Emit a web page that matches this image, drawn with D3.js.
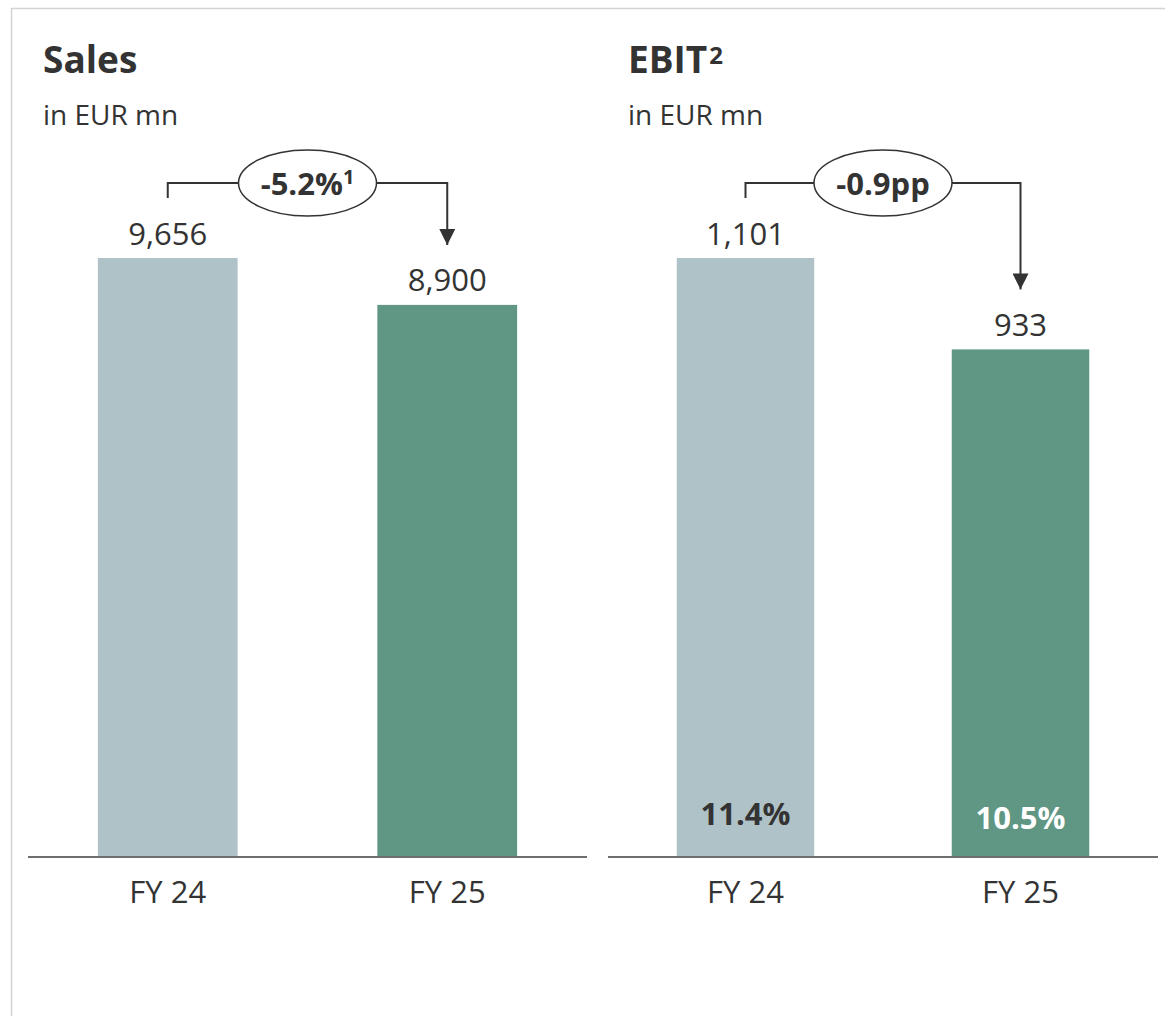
<!DOCTYPE html>
<html>
<head>
<meta charset="utf-8">
<script src="https://cdn.jsdelivr.net/npm/d3@7"></script>
<style>
    html, body { margin: 0; padding: 0; background: #fff; }
    svg text { font-family: 'Open Sans', 'Noto Sans', sans-serif; fill: #333; }
</style>
</head>
<body>
<div id="chart"></div>
<script>
'use strict';

// data
let years = ['FY 24', 'FY 25'];
let salesValues = [9656, 8900];
let ebitValues = [1101, 933];
let ebitMargins = ['11.4%', '10.5%'];
let panelTitles = ['Sales', 'EBIT'];
let titleNotes = ['', '2'];
let changeLabels = ['-5.2%', '-0.9pp'];
let changeNotes = ['1', ''];

let width = 1165,
    height = 1016;

let barColors = ['#afc2c8', '#5f9684'];
let textColor = '#333';

let svg = d3.select('#chart')
    .append('svg')
    .attr('width', width)
    .attr('height', height);

// arrow head for the change bracket
svg.append('defs').append('marker')
    .attr('id', 'arrow')
    .attr('viewBox', '0 0 16 16')
    .attr('refX', 16)
    .attr('refY', 8)
    .attr('markerWidth', 16)
    .attr('markerHeight', 16)
    .attr('markerUnits', 'userSpaceOnUse')
    .attr('orient', 'auto')
    .append('path')
    .attr('d', 'M0,0 L16,8 L0,16 Z')
    .style('fill', textColor);

// outer frame (only top and left edge visible)
svg.append('path')
    .attr('d', 'M11.5,' + height + ' V8.5 H' + width)
    .style('fill', 'none')
    .style('stroke', '#d3d3d3')
    .style('stroke-width', 1.5);

let panels = [
    { values: salesValues, left: 43, axis: [28, 587] },
    { values: ebitValues, left: 628, axis: [608, 1158] }
];

let baseline = 857,
    topY = 258,
    bracketY = 183;

panels.forEach(function(p, i) {
    let g = svg.append('g');

    // scales
    let x = d3.scaleBand()
        .domain(years)
        .range(p.axis)
        .paddingInner(0.5)
        .paddingOuter(0.25);

    let y = d3.scaleLinear()
        .domain([0, d3.max(p.values)])
        .range([baseline, topY]);

    // title + unit
    let title = g.append('text')
        .attr('x', p.left)
        .attr('y', 73)
        .style('font-size', '37px')
        .style('font-weight', 700)
        .text(panelTitles[i]);
    if (titleNotes[i]) {
        title.append('tspan')
            .attr('dx', 2)
            .attr('dy', -9)
            .style('font-size', '24px')
            .text(titleNotes[i]);
    }

    g.append('text')
        .attr('x', p.left)
        .attr('y', 125)
        .style('font-size', '28px')
        .text('in EUR mn');

    // bars
    g.selectAll('rect.bar')
        .data(p.values)
        .enter().append('rect')
        .attr('class', 'bar')
        .attr('x', function(d, j) { return x(years[j]); })
        .attr('y', function(d) { return y(d); })
        .attr('width', x.bandwidth())
        .attr('height', function(d) { return baseline - y(d); })
        .style('fill', function(d, j) { return barColors[j]; });

    // value labels
    g.selectAll('text.value')
        .data(p.values)
        .enter().append('text')
        .attr('class', 'value')
        .attr('x', function(d, j) { return x(years[j]) + x.bandwidth() / 2; })
        .attr('y', function(d) { return y(d) - 13.5; })
        .attr('text-anchor', 'middle')
        .style('font-size', '31px')
        .text(d3.format(','));

    // margin labels inside EBIT bars
    if (i === 1) {
        g.selectAll('text.margin')
            .data(ebitMargins)
            .enter().append('text')
            .attr('class', 'margin')
            .attr('x', function(d, j) { return x(years[j]) + x.bandwidth() / 2; })
            .attr('y', function(d, j) { return baseline - 32 + j * 4; })
            .attr('text-anchor', 'middle')
            .style('font-size', '31px')
            .style('font-weight', 700)
            .style('fill', function(d, j) { return j === 1 ? '#fff' : textColor; })
            .text(function(d) { return d; });
    }

    // x axis
    let xAxis = d3.axisBottom(x).tickSize(0).tickPadding(24);
    let gx = g.append('g')
        .attr('transform', 'translate(0,' + baseline + ')')
        .call(xAxis);
    gx.select('.domain')
        .attr('d', 'M' + p.axis[0] + ',0H' + p.axis[1])
        .style('stroke', '#6e6e6e')
        .style('stroke-width', 2);
    gx.selectAll('.tick text')
        .attr('dy', '0.71em')
        .style('font-size', '31px')
        .style('font-family', "'Open Sans', 'Noto Sans', sans-serif")
        .style('fill', textColor);

    // change bracket
    let c0 = x(years[0]) + x.bandwidth() / 2,
        c1 = x(years[1]) + x.bandwidth() / 2;
    let y0 = y(p.values[0]) - 60,
        y1 = y(p.values[1]) - 60;

    g.append('path')
        .attr('d', 'M' + c0 + ',' + y0 + 'V' + bracketY + 'H' + c1 + 'V' + y1)
        .attr('marker-end', 'url(#arrow)')
        .style('fill', 'none')
        .style('stroke', textColor)
        .style('stroke-width', 2);

    let cx = (c0 + c1) / 2;
    g.append('ellipse')
        .attr('cx', cx)
        .attr('cy', bracketY)
        .attr('rx', 69)
        .attr('ry', 33)
        .style('fill', '#fff')
        .style('stroke', textColor)
        .style('stroke-width', 1.5);

    let label = g.append('text')
        .attr('x', cx)
        .attr('y', bracketY + 12)
        .attr('text-anchor', 'middle')
        .style('font-size', '31px')
        .style('font-weight', 700)
        .text(changeLabels[i]);
    if (changeNotes[i]) {
        label.append('tspan')
            .attr('dy', -11)
            .style('font-size', '20px')
            .text(changeNotes[i]);
    }
});
</script>
</body>
</html>
